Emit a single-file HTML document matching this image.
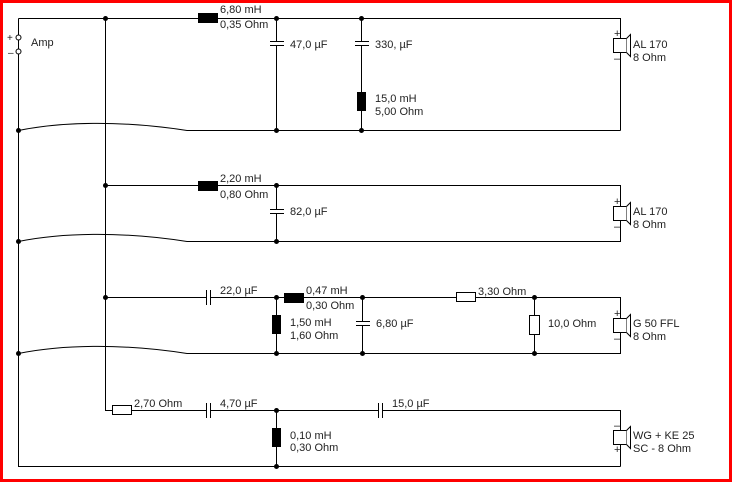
<!DOCTYPE html>
<html><head><meta charset="utf-8"><style>
html,body{margin:0;padding:0;background:#fff;}
svg{display:block}
text{font-family:"Liberation Sans",Arial,sans-serif;font-size:11px;fill:#222}
</style></head><body>
<svg width="733" height="483" viewBox="0 0 733 483" xmlns="http://www.w3.org/2000/svg">
<rect x="0" y="0" width="733" height="483" fill="#fff"/>
<rect x="1.5" y="1.5" width="729" height="479" fill="none" stroke="#f00" stroke-width="3"/>
<g stroke="#000" stroke-width="1" fill="none">
<!-- left rail and top -->
<path d="M18.5 18.5 V466.5 H620.5"/>
<path d="M18.5 18.5 H620.5 V130.5"/>
<path d="M105.5 18.5 V410.5 H112"/>
<!-- section 1 bottom -->
<path d="M18.5 130.5 C60 122,120 120,187 130.5 H620.5"/>
<!-- section 1 -->
<path d="M276.5 18.5 V41 M270 41.5 H284 M270 45.5 H284 M276.5 46 V130.5"/>
<path d="M361.5 18.5 V41 M355 41.5 H369 M355 45.5 H369 M361.5 46 V130.5"/>
<!-- section 2 -->
<path d="M105.5 185.5 H620.5 V241.5 H187 C120 231,60 233,18.5 241.5"/>
<path d="M276.5 185.5 V209 M270 209.5 H284 M270 213.5 H284 M276.5 214 V241.5"/>
<!-- section 3 -->
<path d="M105.5 297.5 H206 M210 297.5 H620.5 V353.5 H187 C120 343,60 345,18.5 353.5"/>
<path d="M206.5 290 V305 M210.5 290 V305"/>
<path d="M276.5 297.5 V353.5"/>
<path d="M362.5 297.5 V321 M356 321.5 H370 M356 325.5 H370 M362.5 326 V353.5"/>
<path d="M534.5 297.5 V353.5"/>
<!-- section 4 -->
<path d="M131 410.5 H206 M210 410.5 H378 M382 410.5 H620.5 V466.5"/>
<path d="M206.5 403 V418 M210.5 403 V418"/>
<path d="M378.5 403 V418 M382.5 403 V418"/>
<path d="M276.5 410.5 V466.5"/>
</g>
<!-- inductors -->
<g fill="#000">
<rect x="198" y="13" width="20" height="10"/>
<rect x="357" y="92" width="9" height="19"/>
<rect x="198" y="181" width="20" height="10"/>
<rect x="284" y="293" width="20" height="10"/>
<rect x="272" y="315" width="9" height="19"/>
<rect x="272" y="428" width="9" height="19"/>
</g>
<!-- resistors -->
<g fill="#fff" stroke="#000">
<rect x="456.5" y="292.5" width="19" height="9"/>
<rect x="529.5" y="315.5" width="10" height="19"/>
<rect x="112.5" y="405.5" width="19" height="9"/>
</g>
<!-- node dots -->
<g fill="#000">
<circle cx="105.5" cy="18.5" r="2.5"/><circle cx="276.5" cy="18.5" r="2.5"/><circle cx="361.5" cy="18.5" r="2.5"/>
<circle cx="18.5" cy="130.5" r="2.5"/><circle cx="276.5" cy="130.5" r="2.5"/><circle cx="361.5" cy="130.5" r="2.5"/>
<circle cx="105.5" cy="185.5" r="2.5"/><circle cx="276.5" cy="185.5" r="2.5"/>
<circle cx="18.5" cy="241.5" r="2.5"/><circle cx="276.5" cy="241.5" r="2.5"/>
<circle cx="105.5" cy="297.5" r="2.5"/><circle cx="276.5" cy="297.5" r="2.5"/><circle cx="362.5" cy="297.5" r="2.5"/><circle cx="534.5" cy="297.5" r="2.5"/>
<circle cx="18.5" cy="353.5" r="2.5"/><circle cx="276.5" cy="353.5" r="2.5"/><circle cx="362.5" cy="353.5" r="2.5"/><circle cx="534.5" cy="353.5" r="2.5"/>
<circle cx="276.5" cy="410.5" r="2.5"/><circle cx="276.5" cy="466.5" r="2.5"/>
</g>
<!-- amp terminals -->
<g fill="#fff" stroke="#000">
<circle cx="18.5" cy="37.5" r="2.5"/><circle cx="18.5" cy="51.5" r="2.5"/>
</g>
<text x="7" y="41" style="font-size:10px">+</text>
<text x="8" y="56" style="font-size:10px">–</text>
<text x="31" y="46">Amp</text>
<!-- speakers -->
<g fill="#fff" stroke="#000">
<g transform="translate(0,0)">
<rect x="613.5" y="38.5" width="13" height="14"/><path d="M626.5 38.5 L630.5 34.5 V56.5 L626.5 52.5"/>
</g>
<g transform="translate(0,168)">
<rect x="613.5" y="38.5" width="13" height="14"/><path d="M626.5 38.5 L630.5 34.5 V56.5 L626.5 52.5"/>
</g>
<g transform="translate(0,280)">
<rect x="613.5" y="38.5" width="13" height="14"/><path d="M626.5 38.5 L630.5 34.5 V56.5 L626.5 52.5"/>
</g>
<g transform="translate(0,392)">
<rect x="613.5" y="38.5" width="13" height="14"/><path d="M626.5 38.5 L630.5 34.5 V56.5 L626.5 52.5"/>
</g>
</g>
<g style="font-size:10px">
<text x="614" y="37">+</text><text x="614" y="62">–</text>
<text x="614" y="205">+</text><text x="614" y="230">–</text>
<text x="614" y="317">+</text><text x="614" y="342">–</text>
<text x="614" y="429">–</text><text x="614" y="453">+</text>
</g>
<!-- labels -->
<text x="220" y="13">6,80 mH</text><text x="220" y="28">0,35 Ohm</text>
<text x="290" y="48">47,0 µF</text>
<text x="375" y="48">330, µF</text>
<text x="375" y="102">15,0 mH</text><text x="375" y="115">5,00 Ohm</text>
<text x="633" y="48">AL 170</text><text x="633" y="61">8 Ohm</text>
<text x="220" y="182">2,20 mH</text><text x="220" y="198">0,80 Ohm</text>
<text x="290" y="215">82,0 µF</text>
<text x="633" y="215">AL 170</text><text x="633" y="228">8 Ohm</text>
<text x="220" y="294">22,0 µF</text>
<text x="306" y="294">0,47 mH</text><text x="306" y="309">0,30 Ohm</text>
<text x="290" y="326">1,50 mH</text><text x="290" y="339">1,60 Ohm</text>
<text x="376" y="327">6,80 µF</text>
<text x="478" y="295">3,30 Ohm</text>
<text x="548" y="327">10,0 Ohm</text>
<text x="633" y="327">G 50 FFL</text><text x="633" y="340">8 Ohm</text>
<text x="134" y="407">2,70 Ohm</text>
<text x="220" y="407">4,70 µF</text>
<text x="392" y="407">15,0 µF</text>
<text x="290" y="439">0,10 mH</text><text x="290" y="451">0,30 Ohm</text>
<text x="633" y="439">WG + KE 25</text><text x="633" y="452">SC - 8 Ohm</text>
</svg>
</body></html>
